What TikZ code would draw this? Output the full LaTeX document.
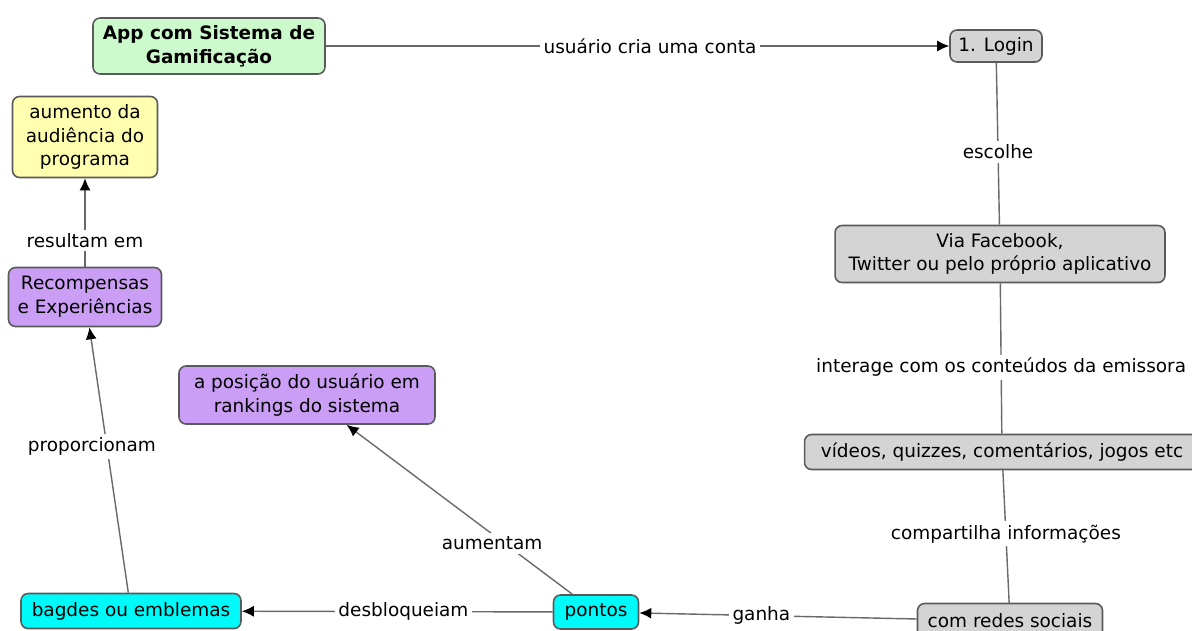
\documentclass[tikz,border=0pt]{standalone}
\usepackage{fontspec}
\setmainfont{DejaVu Sans}
\usetikzlibrary{arrows.meta}
\definecolor{cm_green}{RGB}{204, 250, 204}
\definecolor{cm_yellow}{RGB}{255, 255, 175}
\definecolor{cm_purple}{RGB}{203, 158, 245}
\definecolor{cm_cyan}{RGB}{0, 250, 250}
\definecolor{cm_gray}{RGB}{212, 212, 212}
\definecolor{cm_edge}{RGB}{90, 90, 90}
\definecolor{cm_line}{RGB}{105, 105, 105}
\tikzstyle{box}=[rectangle,rounded corners=4pt,draw=cm_edge,line width=0.9pt,
  inner sep=2pt,align=center,font=\fontsize{10.5}{13.5}\selectfont]
\tikzstyle{gb}=[box,fill=cm_green,font=\fontsize{10.5}{13.5}\selectfont\bfseries]
\tikzstyle{yb}=[box,fill=cm_yellow]
\tikzstyle{pb}=[box,fill=cm_purple]
\tikzstyle{cb}=[box,fill=cm_cyan]
\tikzstyle{sb}=[box,fill=cm_gray]
\tikzstyle{lbl}=[fill=white,inner sep=2pt,font=\fontsize{10.5}{13.5}\selectfont]
\tikzstyle{link}=[draw=cm_line,line width=0.8pt]
\tikzstyle{arr}=[link,-{Latex[black,length=2.4mm,width=2.2mm]}]

\begin{document}
\begin{tikzpicture}[x=0.02cm, y=-0.02cm]
        \useasboundingbox (0, 0) rectangle (1192, 630);
        \node [style=gb, minimum width=4.64cm, minimum height=1.12cm] (0) at (209, 46) {App com Sistema de\\Gamificação};
		\node [style=sb, minimum width=1.84cm, minimum height=0.64cm] (1) at (996, 46) {1. Login};
		\node [style=sb, minimum width=6.6cm, minimum height=1.14cm] (2) at (1000, 254) {Via Facebook,\\Twitter ou pelo próprio aplicativo};
		\node [style=sb, minimum width=7.9cm, minimum height=0.7cm] (3) at (1002, 452) {vídeos, quizzes, comentários, jogos etc};
		\node [style=sb, minimum width=3.7cm, minimum height=0.7cm] (4) at (1010, 621) {com redes sociais};
		\node [style=cb, minimum width=1.7cm, minimum height=0.68cm] (5) at (596, 612) {pontos};
		\node [style=cb, minimum width=4.4cm, minimum height=0.7cm] (6) at (131, 611) {bagdes ou emblemas};
		\node [style=pb, minimum width=5.12cm, minimum height=1.16cm] (7) at (307, 395) {a posição do usuário em\\rankings do sistema};
		\node [style=pb, minimum width=3.06cm, minimum height=1.18cm] (8) at (85, 297) {Recompensas\\e Experiências};
		\node [style=yb, minimum width=2.9cm, minimum height=1.62cm] (9) at (85, 137) {aumento da\\audiência do\\programa};
		\draw [style=arr] (0) to node [style=lbl, pos=0.52] {usuário cria uma conta} (1);
		\draw [style=link] (1) to node [style=lbl, pos=0.55] {escolhe} (2);
		\draw [style=link] (2) to node [style=lbl, pos=0.56] {interage com os conteúdos da emissora} (3);
		\draw [style=link] (3) to node [style=lbl, pos=0.48] {compartilha informações} (4);
		\draw [style=arr] (4) to node [style=lbl, pos=0.56] {ganha} (5);
		\draw [style=arr] (5) to node [style=lbl, pos=0.48] {desbloqueiam} (6);
		\draw [style=arr] (5) to node [style=lbl, pos=0.3, xshift=-0.25cm] {aumentam} (7);
		\draw [style=arr] (6) to node [style=lbl, pos=0.55, xshift=-0.3cm] {proporcionam} (8);
		\draw [style=arr] (8) to node [style=lbl, pos=0.3] {resultam em} (9);
    \end{tikzpicture}
\end{document}
